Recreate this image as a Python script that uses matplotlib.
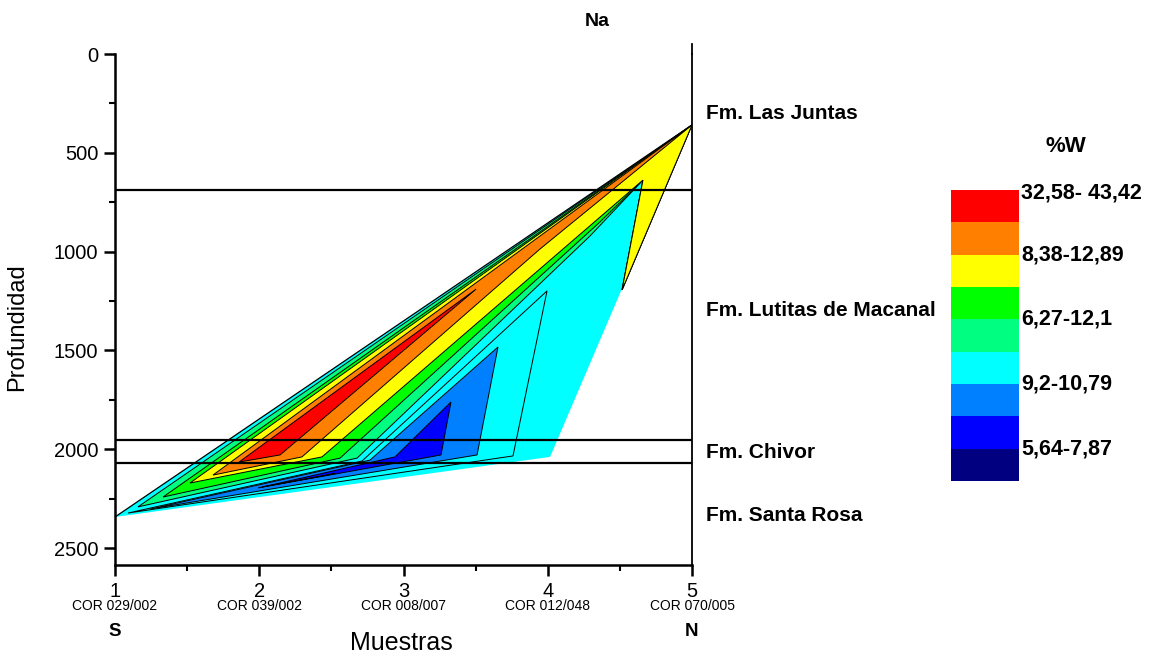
import matplotlib
matplotlib.use("Agg")
import matplotlib.pyplot as plt
import matplotlib.transforms as mtransforms
from matplotlib.patches import Polygon
from matplotlib.ticker import MultipleLocator

plt.rcParams['font.family'] = ['Liberation Sans', 'DejaVu Sans']

# ---------------- data ----------------
title = "Na"
x_ticks = [1, 2, 3, 4, 5]
samples = ["COR 029/002", "COR 039/002", "COR 008/007", "COR 012/048", "COR 070/005"]
ends = ["S", "N"]
y_ticks = [0, 500, 1000, 1500, 2000, 2500]

formations = ["Fm. Las Juntas", "Fm. Lutitas de Macanal", "Fm. Chivor", "Fm. Santa Rosa"]
formation_depths = [299, 1296, 2019, 2333]
boundary_depths = [688, 1953, 2070]

# colour classes (top of legend to bottom)
class_colors = ["#FF0000", "#FF8000", "#FFFF00", "#00FF00", "#00FF80",
                "#00FFFF", "#0080FF", "#0000FF", "#000080"]
legend_labels = ["32,58- 43,42", "8,38-12,89", "6,27-12,1", "9,2-10,79", "5,64-7,87"]
legend_label_rows = [0.1, 2, 4, 6, 8]
legend_title = "%W"

# contour polygons: (sample position, depth)
outer_x = [1.000, 4.016, 5.000]
outer_d = [2343, 2039, 359]

sg_x = [1.159, 2.678, 4.293, 4.660, 4.515, 5.000]
sg_d = [2292, 2045, 921, 638, 1194, 359]

green_x = [1.333, 2.560, 4.362, 4.660, 4.515, 5.000]
green_d = [2242, 2045, 850, 638, 1194, 359]

yellow_x = [1.520, 2.435, 4.660, 4.515, 5.000]
yellow_d = [2171, 2039, 638, 1194, 359]

orange_x = [1.679, 2.296, 3.946, 5.000]
orange_d = [2131, 2039, 987, 359]

red_x = [1.860, 2.144, 3.503]
red_d = [2065, 2029, 1190]

cyan_in_x = [1.090, 2.712, 3.995, 3.759]
cyan_in_d = [2323, 2060, 1199, 2034]

dblue_x = [1.243, 2.768, 3.655, 3.510]
dblue_d = [2303, 2055, 1483, 2029]

blue_x = [1.991, 2.941, 3.329, 3.260]
blue_d = [2196, 2039, 1761, 2029]

navy_x = [2.019, 2.525, 2.421]
navy_d = [2191, 2123, 2138]

# ---------------- figure ----------------
W, H = 1156, 656
fig = plt.figure(figsize=(W / 100, H / 100), dpi=100)
ax = fig.add_axes([115 / W, 1 - 565 / H, 577 / W, 511 / H])

ax.set_xlim(1, 5)
ax.set_ylim(2586, 0)

ax.add_patch(Polygon(list(zip(outer_x, outer_d)), closed=True,
                     facecolor=class_colors[5], edgecolor="none", zorder=1))
ax.plot([outer_x[0], outer_x[2]], [outer_d[0], outer_d[2]], color="black", lw=0.9, zorder=3)

layers = [
    (sg_x, sg_d, class_colors[4]),
    (green_x, green_d, class_colors[3]),
    (yellow_x, yellow_d, class_colors[2]),
    (orange_x, orange_d, class_colors[1]),
    (red_x, red_d, class_colors[0]),
    (cyan_in_x, cyan_in_d, class_colors[5]),
    (dblue_x, dblue_d, class_colors[6]),
    (blue_x, blue_d, class_colors[7]),
    (navy_x, navy_d, class_colors[8]),
]
for xs, ds, c in layers:
    ax.add_patch(Polygon(list(zip(xs, ds)), closed=True, facecolor=c,
                         edgecolor="black", lw=0.7, zorder=2))

for d in boundary_depths:
    ax.axhline(d, color="black", lw=1.6, zorder=4)

# axes styling
for s in ["left", "bottom"]:
    ax.spines[s].set_linewidth(1.8)
ax.spines["right"].set_linewidth(1.3)
ax.spines["top"].set_visible(False)
# right frame line runs a little above the plot top
ax.plot([1, 0], [1, 1.02], transform=ax.transAxes, alpha=0)
ax.plot([1, 1], [1, 1.02], transform=ax.transAxes, color="black", lw=1.3, clip_on=False)

ax.set_xticks(x_ticks)
ax.set_xticklabels([str(t) for t in x_ticks])
ax.xaxis.set_minor_locator(MultipleLocator(0.5))
ax.set_yticks(y_ticks)
ax.yaxis.set_minor_locator(MultipleLocator(250))
ax.tick_params(axis="both", which="major", direction="out", length=8, width=1.8, labelsize=14.5, pad=3)
ax.tick_params(axis="both", which="minor", direction="out", length=4, width=1.5)
ax.tick_params(axis="y", pad=4)
ax.tick_params(axis="x", pad=4)

ax.set_ylabel("Profundidad", fontsize=17)
ax.yaxis.set_label_coords(-0.151, 0.466)

trans = mtransforms.blended_transform_factory(ax.transData, ax.transAxes)
for xv, s in zip(x_ticks, samples):
    ax.text(xv, -0.080, s, transform=trans, ha="center", va="center", fontsize=10)
ax.text(x_ticks[0], -0.131, ends[0], transform=trans, ha="center", va="center",
        fontsize=13.5, fontweight="bold")
ax.text(x_ticks[-1], -0.131, ends[1], transform=trans, ha="center", va="center",
        fontsize=13.5, fontweight="bold")
ax.text(0.497, -0.153, "Muestras", transform=ax.transAxes, ha="center", va="center", fontsize=18)

ax.text(0.835, 1.063, title, transform=ax.transAxes, ha="center", va="center",
        fontsize=14, fontweight="bold")

trans2 = mtransforms.blended_transform_factory(ax.transAxes, ax.transData)
for name, d in zip(formations, formation_depths):
    ax.text(1.025, d, name, transform=trans2, ha="left", va="center",
            fontsize=15, fontweight="bold", clip_on=False)

# legend colour bar
cax = fig.add_axes([951 / W, 1 - 481 / H, 68 / W, 291 / H])
n = len(class_colors)
for i, c in enumerate(class_colors):
    cax.bar(0, 1, bottom=i, width=1, color=c, edgecolor="none")
cax.set_xlim(-0.5, 0.5)
cax.set_ylim(n, 0)
cax.axis("off")
for lab, r in zip(legend_labels, legend_label_rows):
    cax.text(1.03, r, lab, transform=mtransforms.blended_transform_factory(cax.transAxes, cax.transData),
             ha="left", va="center", fontsize=15.5, fontweight="bold")
fig.text(1066 / W, 1 - 146 / H, legend_title, ha="center", va="center",
         fontsize=16, fontweight="bold")

fig.savefig("out.png", dpi=100)
